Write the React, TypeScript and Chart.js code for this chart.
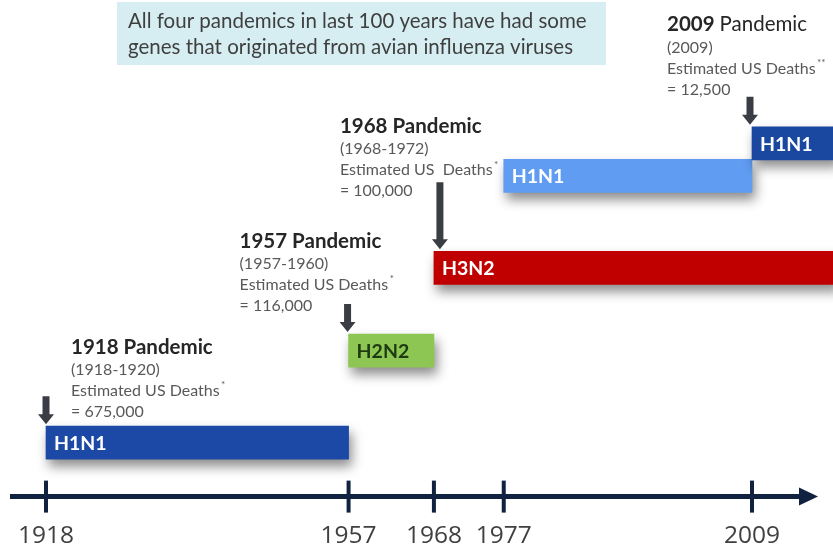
import React, { useEffect, useRef } from 'react';
import { Chart, registerables } from 'chart.js';

Chart.register(...registerables);

// ---- data ----
const strainNames = ['H1N1', 'H2N2', 'H3N2', 'H1N1', 'H1N1'];
const strainStarts = [1918, 1957, 1968, 1977, 2009];
const strainEnds = [1957, 1968, 2020, 2009, 2020];
const strainLevels = [1.63, 4.41, 6.91, 9.69, 10.67];
const tickYears = [1918, 1957, 1968, 1977, 2009];

const pandemicYears = [1918, 1957, 1968, 2009];
const pandemicTitles = ['1918 Pandemic', '1957 Pandemic', '1968 Pandemic', '2009 Pandemic'];
const pandemicSpans = ['(1918-1920)', '(1957-1960)', '(1968-1972)', '(2009)'];
const deathLabels = ['Estimated US Deaths', 'Estimated US Deaths', 'Estimated US  Deaths', 'Estimated US Deaths'];
const deathNotes = ['*', '*', '*', '**'];
const deathCounts = ['= 675,000', '= 116,000', '= 100,000', '= 12,500'];
const pandemicBars = [0, 1, 2, 4];
const headline = [
  'All four pandemics in last 100 years have had some',
  'genes that originated from avian influenza viruses',
];

// ---- styles ----
const strainColors = ['#1b49a5', '#8dc653', '#c00000', '#609cf1', '#1a479f'];
const strainLabelColors = ['#ffffff', '#1e3a12', '#ffffff', '#ffffff', '#ffffff'];
const FONT = 'Lato, "Open Sans", sans-serif';
const TICK_FONT = '"Open Sans", Lato, sans-serif';
const noteLayout = [
  { dx: 25, titleDy: -79, arrowDx: 0, arrowLen: 28, boldAll: true },
  { dx: -109, titleDy: -93, arrowDx: -1, arrowLen: 28, boldAll: true },
  { dx: -94, titleDy: -125, arrowDx: 6, arrowLen: 67, boldAll: true },
  { dx: -85, titleDy: -102, arrowDx: -2, arrowLen: 28, boldAll: false },
];

function drawArrow(ctx: CanvasRenderingContext2D, x: number, top: number, bottom: number) {
  const shaft = 3.5;
  const head = 8;
  const headLen = 10;
  ctx.fillStyle = '#3a3e44';
  ctx.beginPath();
  ctx.moveTo(x - shaft, top);
  ctx.lineTo(x + shaft, top);
  ctx.lineTo(x + shaft, bottom - headLen);
  ctx.lineTo(x + head, bottom - headLen);
  ctx.lineTo(x, bottom);
  ctx.lineTo(x - head, bottom - headLen);
  ctx.lineTo(x - shaft, bottom - headLen);
  ctx.closePath();
  ctx.fill();
}

const decorPlugin = {
  id: 'timelineDecor',
  beforeDatasetsDraw(chart: any) {
    const ctx: CanvasRenderingContext2D = chart.ctx;
    // headline box
    ctx.save();
    ctx.fillStyle = '#d6eef2';
    ctx.fillRect(117, 2, 489, 63);
    ctx.fillStyle = '#3f3f3f';
    ctx.font = `20.5px ${FONT}`;
    ctx.textBaseline = 'middle';
    ctx.textAlign = 'left';
    ctx.fillText(headline[0], 128, 21);
    ctx.fillText(headline[1], 128, 47);
    ctx.restore();
    // shadows for bars
    ctx.save();
    ctx.shadowColor = 'rgba(0,0,0,0.45)';
    ctx.shadowBlur = 12;
    ctx.shadowOffsetX = 3;
    ctx.shadowOffsetY = 7;
  },
  afterDatasetsDraw(chart: any) {
    const ctx: CanvasRenderingContext2D = chart.ctx;
    ctx.restore();
    const xs = chart.scales.x;
    const meta = chart.getDatasetMeta(0);
    const area = chart.chartArea;

    // bar labels
    ctx.save();
    ctx.textBaseline = 'middle';
    ctx.textAlign = 'left';
    ctx.font = `bold 19.5px ${FONT}`;
    meta.data.forEach((el: any, i: number) => {
      const start = Math.min(el.x, el.base);
      ctx.fillStyle = strainLabelColors[i];
      ctx.fillText(strainNames[i], start + 8, el.y + 1);
    });
    ctx.restore();

    // pandemic notes and arrows
    ctx.save();
    ctx.textBaseline = 'middle';
    ctx.textAlign = 'left';
    pandemicYears.forEach((year, i) => {
      const lay = noteLayout[i];
      const el = meta.data[pandemicBars[i]];
      const barTop = el.y - el.height / 2;
      const px = xs.getPixelForValue(year);
      const tx = px + lay.dx;
      const ty = barTop + lay.titleDy;
      ctx.fillStyle = '#262626';
      if (lay.boldAll) {
        ctx.font = `bold 20.5px ${FONT}`;
        ctx.fillText(pandemicTitles[i], tx, ty);
      } else {
        const parts = pandemicTitles[i].split(' ');
        ctx.font = `bold 20.5px ${FONT}`;
        ctx.fillText(parts[0], tx, ty);
        const w = ctx.measureText(parts[0] + ' ').width;
        ctx.font = `20.5px ${FONT}`;
        ctx.fillText(parts.slice(1).join(' '), tx + w, ty);
      }
      ctx.fillStyle = '#595959';
      ctx.font = `16px ${FONT}`;
      ctx.fillText(pandemicSpans[i], tx, ty + 23);
      ctx.fillText(deathLabels[i], tx, ty + 44);
      const w2 = ctx.measureText(deathLabels[i]).width;
      ctx.font = `10px ${FONT}`;
      ctx.fillText(deathNotes[i], tx + w2 + 1.5, ty + 38);
      ctx.font = `16px ${FONT}`;
      ctx.fillText(deathCounts[i], tx, ty + 65);
      drawArrow(ctx, px + lay.arrowDx, barTop - 2 - lay.arrowLen, barTop - 2);
    });
    ctx.restore();

    // timeline axis
    ctx.save();
    const yAxis = area.bottom;
    ctx.strokeStyle = '#10223f';
    ctx.fillStyle = '#10223f';
    ctx.lineWidth = 5;
    ctx.beginPath();
    ctx.moveTo(10, yAxis);
    ctx.lineTo(803, yAxis);
    ctx.stroke();
    ctx.beginPath();
    ctx.moveTo(799, yAxis - 9);
    ctx.lineTo(818, yAxis);
    ctx.lineTo(799, yAxis + 9);
    ctx.closePath();
    ctx.fill();
    ctx.lineWidth = 4;
    tickYears.forEach((yr) => {
      const px = xs.getPixelForValue(yr);
      ctx.beginPath();
      ctx.moveTo(px, yAxis - 16);
      ctx.lineTo(px, yAxis + 16);
      ctx.stroke();
    });
    ctx.restore();
  },
};

export default function App() {
  const ref = useRef<HTMLCanvasElement | null>(null);
  useEffect(() => {
    if (!ref.current) return;
    const chart = new Chart(ref.current, {
      type: 'bar',
      data: {
        datasets: [
          {
            data: strainStarts.map((s, i) => ({ x: [s, strainEnds[i]], y: strainLevels[i] })) as any,
            backgroundColor: strainColors,
            borderWidth: 0,
            barThickness: 33,
            borderSkipped: false,
          },
        ],
      },
      options: {
        indexAxis: 'y',
        animation: false,
        responsive: false,
        devicePixelRatio: 1,
        layout: { padding: { left: 0, right: 0, top: 0, bottom: -27 } },
        plugins: { legend: { display: false }, tooltip: { enabled: false } },
        scales: {
          x: {
            type: 'linear',
            min: 1912.07,
            max: 2019.44,
            position: 'bottom',
            border: { display: false },
            grid: { display: false, drawTicks: false },
            afterBuildTicks: (axis: any) => {
              axis.ticks = tickYears.map((v) => ({ value: v }));
            },
            afterFit: (axis: any) => {
              axis.paddingLeft = 0;
              axis.paddingRight = 0;
            },
            ticks: {
              autoSkip: false,
              maxRotation: 0,
              padding: 25,
              color: '#404040',
              font: { family: TICK_FONT, size: 24.5 },
              callback: (v: any) => String(v),
            },
          },
          y: {
            type: 'linear',
            display: false,
            offset: false,
            min: 0,
            max: 15,
          },
        },
      },
      plugins: [decorPlugin],
    });
    return () => chart.destroy();
  }, []);
  return (
    <div style={{ position: 'absolute', left: 0, top: 0, width: 833, height: 549, background: '#ffffff' }}>
      <canvas ref={ref} width={833} height={549} />
    </div>
  );
}
